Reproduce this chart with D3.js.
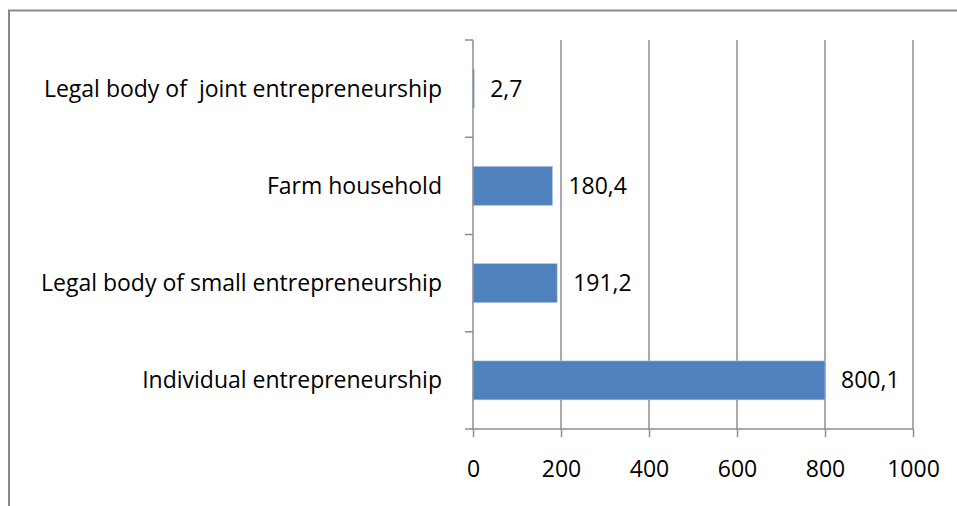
<!DOCTYPE html>
<html>
<head>
<meta charset="utf-8">
<script src="https://cdn.jsdelivr.net/npm/d3@7"></script>
<style>
  html, body { margin: 0; padding: 0; background: #fff; }
  svg { display: block; }
  text { font-family: "Open Sans", Lato, sans-serif; fill: #000; white-space: pre; }
</style>
</head>
<body>
<svg id="chart" width="957" height="506"></svg>
<script>
// Categories, listed bottom to top as they appear on the axis
const categories = [
  "Individual entrepreneurship",
  "Legal body of small entrepreneurship",
  "Farm household",
  "Legal body of  joint entrepreneurship"
];
const values = [800.1, 191.2, 180.4, 2.7];
const xTicks = [0, 200, 400, 600, 800, 1000];

const svg = d3.select("#chart");
const W = 957, H = 506;
const margin = { left: 473, right: 44, top: 40, bottom: 77 };
const plotW = W - margin.left - margin.right;
const plotH = H - margin.top - margin.bottom;
const fontSize = 23;

// Outer chart frame (runs past the right and bottom edges)
svg.append("rect")
  .attr("x", 9).attr("y", 10.5)
  .attr("width", 980).attr("height", 520)
  .attr("fill", "none")
  .attr("stroke", "#898989")
  .attr("stroke-width", 2);

const g = svg.append("g").attr("transform", `translate(${margin.left},${margin.top})`);

const x = d3.scaleLinear().domain([0, 1000]).range([0, plotW]);
const y = d3.scaleBand()
  .domain(categories.slice().reverse())
  .range([0, plotH])
  .paddingInner(0.6)
  .paddingOuter(0.3);

const gridColor = "#8e8e8e";

// Vertical gridlines
g.append("g")
  .selectAll("line")
  .data(xTicks.filter(d => d > 0))
  .join("line")
  .attr("x1", d => x(d)).attr("x2", d => x(d))
  .attr("y1", 0).attr("y2", plotH)
  .attr("stroke", gridColor)
  .attr("stroke-width", 1.5);

// Bars
g.append("g")
  .selectAll("rect")
  .data(categories)
  .join("rect")
  .attr("x", x(0))
  .attr("y", d => y(d))
  .attr("width", (d, i) => x(values[i]) - x(0))
  .attr("height", y.bandwidth())
  .attr("fill", "#4f81bd")
  .attr("stroke", "#aac0dd")
  .attr("stroke-width", 0.6);

// Value labels
const fmt = v => d3.format(".1f")(v).replace(".", ",");
g.append("g")
  .selectAll("text")
  .data(categories)
  .join("text")
  .attr("x", (d, i) => x(values[i]) + 16)
  .attr("y", d => y(d) + y.bandwidth() / 2)
  .attr("dy", "0.35em")
  .attr("font-size", fontSize)
  .text((d, i) => fmt(values[i]));

// Bottom axis
const xAxis = d3.axisBottom(x)
  .tickValues(xTicks)
  .tickSize(8)
  .tickPadding(24)
  .tickFormat(d3.format("d"));
const xa = g.append("g").attr("transform", `translate(0,${plotH})`).call(xAxis);
xa.select(".domain").attr("stroke", gridColor).attr("stroke-width", 1.5).attr("d", `M0,0H${plotW}`);
xa.selectAll(".tick line").attr("stroke", gridColor).attr("stroke-width", 1.5);
xa.selectAll(".tick text").attr("font-size", fontSize).attr("font-family", null).attr("fill", "#000");

// Left axis: category boundaries as tick marks
const bandStep = plotH / categories.length;
const boundaries = d3.range(categories.length + 1).map(i => i * bandStep);
g.append("line")
  .attr("x1", 0).attr("x2", 0).attr("y1", 0).attr("y2", plotH)
  .attr("stroke", gridColor).attr("stroke-width", 1.5);
g.append("g")
  .selectAll("line")
  .data(boundaries)
  .join("line")
  .attr("x1", -8).attr("x2", 0)
  .attr("y1", d => d).attr("y2", d => d)
  .attr("stroke", gridColor).attr("stroke-width", 1.5);

// Category labels
g.append("g")
  .selectAll("text")
  .data(categories)
  .join("text")
  .attr("x", -31)
  .attr("y", d => y(d) + y.bandwidth() / 2)
  .attr("dy", "0.35em")
  .attr("text-anchor", "end")
  .attr("font-size", fontSize)
  .text(d => d);
</script>
</body>
</html>
